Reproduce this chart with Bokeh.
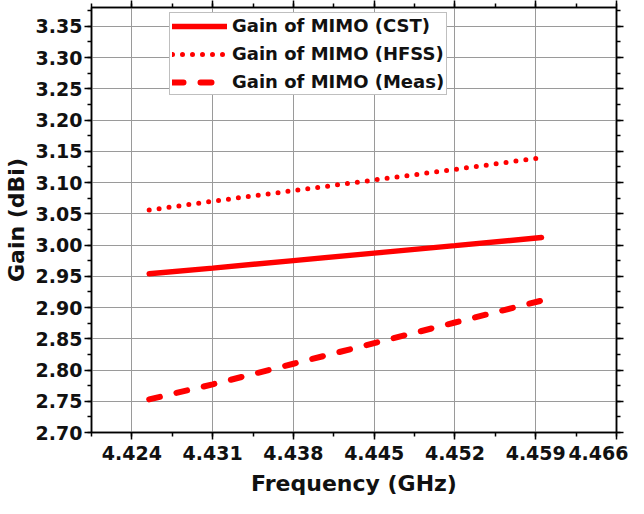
from bokeh.plotting import figure
from bokeh.models import (Range1d, LinearAxis, SingleIntervalTicker, NumeralTickFormatter,
                          CustomJSTickFormatter)
from bokeh.embed import file_html
from bokeh.resources import INLINE

# data
freq_cst = [4.4255, 4.431, 4.438, 4.445, 4.452, 4.4595]
gain_cst = [2.954, 2.963, 2.975, 2.987, 2.999, 3.012]
freq_hfss = [4.4255, 4.431, 4.438, 4.445, 4.452, 4.4592]
gain_hfss = [3.056, 3.070, 3.087, 3.104, 3.121, 3.139]
freq_meas = [4.4255, 4.431, 4.438, 4.445, 4.452, 4.4597]
gain_meas = [2.753, 2.777, 2.810, 2.843, 2.876, 2.912]

labels = ["Gain of MIMO (CST)", "Gain of MIMO (HFSS)", "Gain of MIMO (Meas)"]

FONT = "DejaVu Sans"
RED = "#ff0000"

p = figure(width=628, height=498, output_backend="svg", toolbar_location=None,
           x_range=Range1d(4.4205, 4.466), y_range=Range1d(2.70, 3.38),
           min_border_top=0, min_border_left=0, min_border_right=12, min_border_bottom=0)
p.outline_line_color = "black"
p.outline_line_width = 1.5

xt = SingleIntervalTicker(interval=0.007, num_minor_ticks=2)
yt = SingleIntervalTicker(interval=0.05, num_minor_ticks=2)

p.xaxis.ticker = xt
p.yaxis.ticker = yt
p.xaxis.formatter = NumeralTickFormatter(format="0.000")
p.yaxis.formatter = NumeralTickFormatter(format="0.00")

for ax in [p.xaxis[0], p.yaxis[0]]:
    ax.major_label_text_font = FONT
    ax.major_label_text_font_style = "bold"
    ax.major_label_text_font_size = "19px"
    ax.major_label_text_color = "#111111"
    ax.axis_label_text_font = FONT
    ax.axis_label_text_font_style = "bold"
    ax.axis_label_text_font_size = "22px"
    ax.axis_label_text_color = "#111111"
    ax.axis_line_width = 1.5
    ax.major_tick_line_width = 1.5
    ax.minor_tick_line_width = 1.5
    ax.major_tick_out = 7
    ax.major_tick_in = 0
    ax.minor_tick_out = 4
    ax.minor_tick_in = 0

p.xaxis.axis_label = "Frequency (GHz)"
p.yaxis.axis_label = "Gain (dBi)"
p.xaxis.major_label_standoff = 6
p.xaxis.axis_label_standoff = 8
p.yaxis.major_label_standoff = 2
p.yaxis.axis_label_standoff = 4

blank = CustomJSTickFormatter(code="return '';")
for loc, tk in [("above", xt), ("right", yt)]:
    ax = LinearAxis(ticker=tk, formatter=blank, major_label_text_font_size="1px",
                    major_label_text_color=None, major_label_standoff=0,
                    axis_line_width=1.5, major_tick_line_width=1.5, minor_tick_line_width=1.5,
                    major_tick_out=7, major_tick_in=0, minor_tick_out=4, minor_tick_in=0)
    p.add_layout(ax, loc)

p.xgrid.ticker = xt
p.ygrid.ticker = yt
p.grid.grid_line_color = "#9a9a9a"
p.grid.grid_line_width = 1

p.line(freq_cst, gain_cst, line_color=RED, line_width=5.5, line_cap="round",
       legend_label=labels[0])
p.line(freq_hfss, gain_hfss, line_color=RED, line_width=5, line_cap="round",
       line_dash="0 10", legend_label=labels[1])
p.line(freq_meas, gain_meas, line_color=RED, line_width=6, line_cap="round",
       line_dash="11 17", legend_label=labels[2])

lg = p.legend[0]
lg.location = (78, 337)
lg.label_text_font = FONT
lg.label_text_font_style = "bold"
lg.label_text_font_size = "18px"
lg.label_text_color = "#111111"
lg.glyph_width = 55
lg.label_standoff = 5
lg.padding = 2
lg.spacing = 7
lg.margin = 0
lg.border_line_color = "#808080"
lg.border_line_width = 1
lg.background_fill_alpha = 1

open("out.html", "w").write(file_html(p, INLINE))
